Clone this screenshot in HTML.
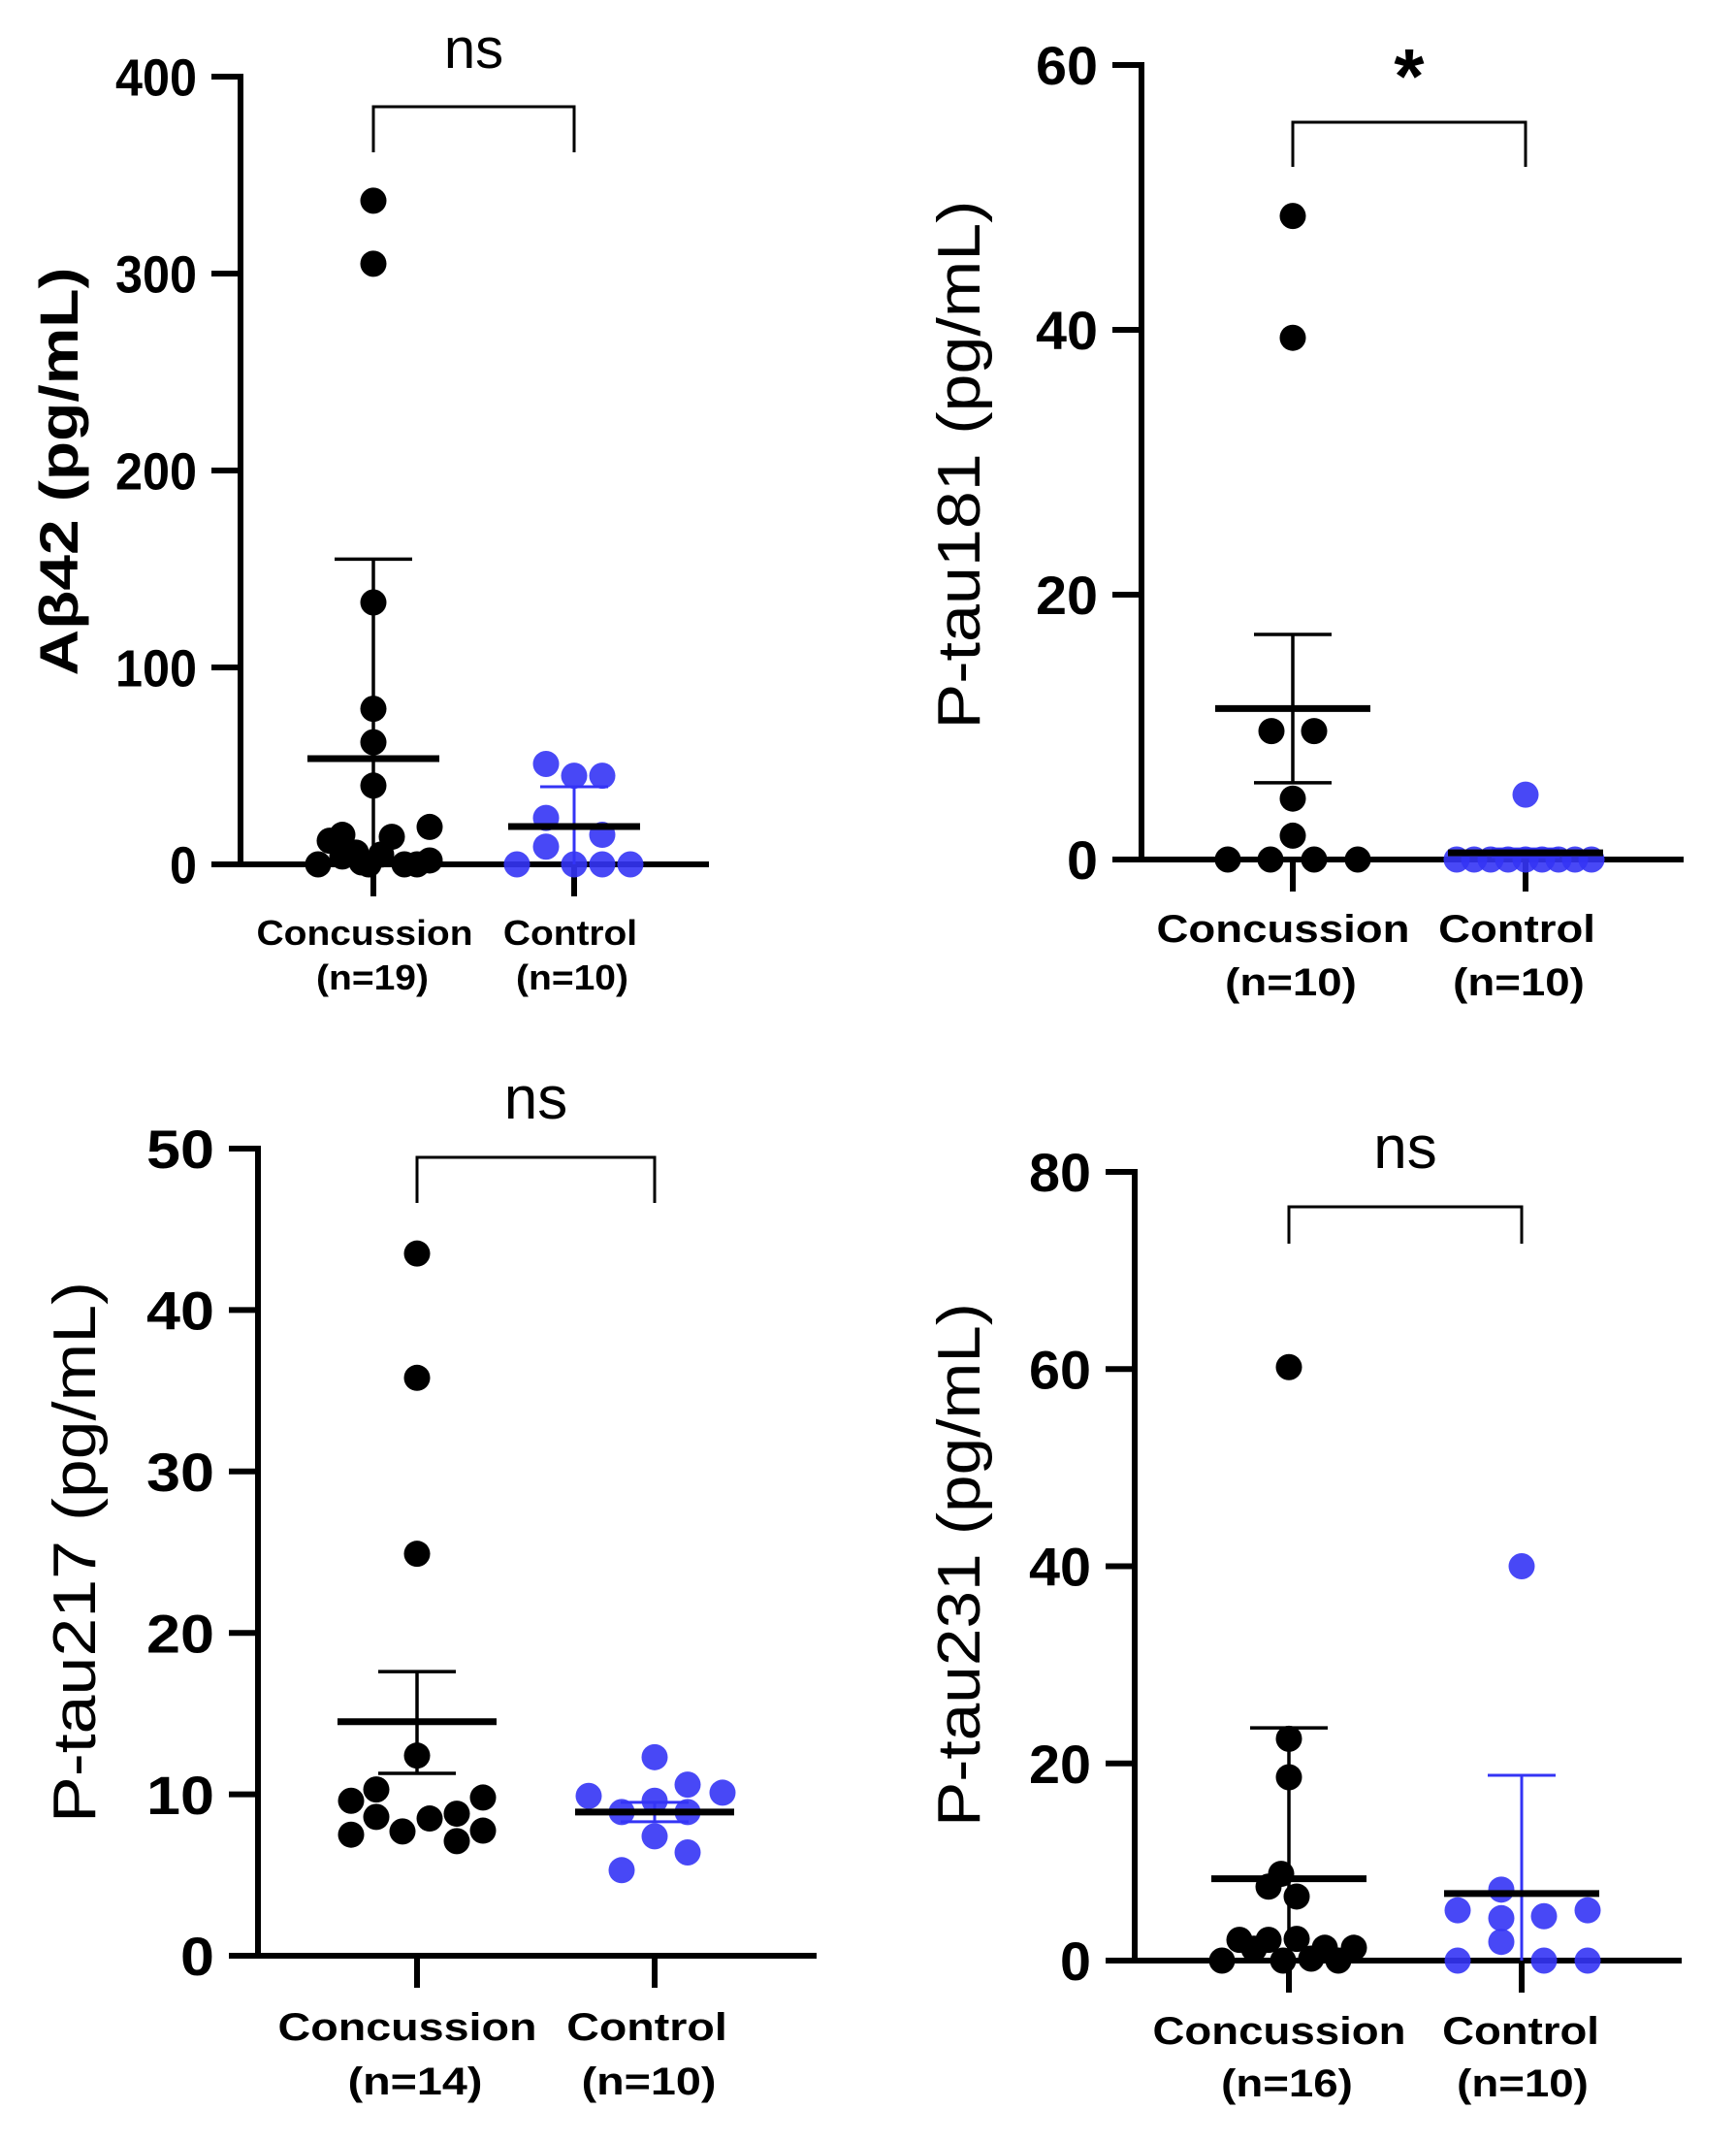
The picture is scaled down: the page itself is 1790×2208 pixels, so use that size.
<!DOCTYPE html>
<html><head><meta charset="utf-8"><style>
html,body{margin:0;padding:0;background:#fff;}
svg{display:block;}
text{font-family:"Liberation Sans",Arial,sans-serif;}
</style></head><body>
<svg id="fig" width="1790" height="2208" viewBox="0 0 1790 2208" xmlns="http://www.w3.org/2000/svg"></svg>
<script>
// ---- Panel A: Abeta42 ----
const a_conc = [337,305,133,79,62,40,0,12,15,4,6,0,1,5,14,0,0,19,2];
const a_concOff = [0,0,0,0,0,0,-57,-45,-32,-32,-18,-5,-12,8,19,32,45,58,58];
const a_ctrl = [51,45,45,23.6,15,9,0,0,0,0];
const a_ctrlOff = [-29,0,29,-29,29,-29,-59,0,29,58];
const a_stats = [53.7,155,-48, 19.2,39.4,-1];
const a_ticks = [0,100,200,300,400];
// ---- Panel B: P-tau181 ----
const b_conc = [48.6,39.4,9.7,9.7,4.6,1.8,0,0,0,0];
const b_concOff = [0,0,-22,22,0,0,-67,-23,22,67];
const b_ctrl = [4.9,0,0,0,0,0,0,0,0,0];
const b_ctrlOff = [0,-71,-53,-36,-18,0,17,34,51,68];
const b_stats = [11.4,17.0,5.8, 0.5,0.8,0.2];
const b_ticks = [0,20,40,60];
// ---- Panel C: P-tau217 ----
const c_conc = [43.5,35.8,24.9,12.4,9.6,10.3,8.6,7.5,7.7,8.5,8.8,7.1,9.8,7.75];
const c_concOff = [0,0,0,0,-68,-42,-42,-68,-15,13,41,41,68,68];
const c_ctrl = [12.3,9.9,8.9,9.6,10.6,8.9,10.1,7.4,6.4,5.3];
const c_ctrlOff = [0,-68,-34,0,34,34,70,0,34,-34];
const c_stats = [14.5,17.6,11.3, 8.9,9.5,8.3];
const c_ticks = [0,10,20,30,40,50];
// ---- Panel D: P-tau231 ----
const d_conc = [60.2,22.5,18.6,8.8,7.5,6.5,2.1,2.1,2.2,1.3,1.3,0,0.2,0,0,1.2];
const d_concOff = [0,0,0,-8,-21,8,-51,-21,8,37,67,-6,23,51,-69,-36];
const d_ctrl = [40,7.2,5.1,4.3,4.5,5.1,1.9,0,0,0];
const d_ctrlOff = [0,-21,-66,-21,23,68,-21,-66,23,68];
const d_stats = [8.3,23.6,-7, 6.8,18.8,-5];
const d_ticks = [0,20,40,60,80];

const NS='http://www.w3.org/2000/svg';
const svg=document.getElementById('fig');
const BLUE='#3434f5';
function el(tag,attrs,parent){const e=document.createElementNS(NS,tag);for(const k in attrs)e.setAttribute(k,attrs[k]);(parent||svg).appendChild(e);return e;}

function panel(P){
  const g=el('g',{});
  
  
  const y=v=>P.y0-(v/P.ymax)*(P.y0-P.ytop);
  const ya=el('line',{x1:P.ax,y1:P.ytop-3,x2:P.ax,y2:P.y0+3,stroke:'#000','stroke-width':6},g);
  
  
  const xa=el('line',{x1:P.ax-30,y1:P.y0,x2:P.xend,y2:P.y0,stroke:'#000','stroke-width':6},g);
  
  
  P.ticks.forEach(t=>{
    const tk=el('line',{x1:P.ax-30,y1:y(t),x2:P.ax,y2:y(t),stroke:'#000','stroke-width':6},g);
    
    
    const s=String(t);
    const tl=el('text',{x:P.ax-45,y:y(t)+P.tfs*0.36,'text-anchor':'end','font-size':P.tfs,'font-weight':'bold',textLength:P.dw*s.length,lengthAdjust:'spacingAndGlyphs'},g);
    tl.textContent=s;
    
    
  });
  [P.cx1,P.cx2].forEach(cx=>{
    const xt=el('line',{x1:cx,y1:P.y0,x2:cx,y2:P.y0+33,stroke:'#000','stroke-width':6},g);
    
    
  });
  const tt=el('text',{x:0,y:0,'text-anchor':'middle','font-size':P.titleFs,'font-weight':P.titleW||'normal',transform:`translate(${P.titleX},${P.titleY}) rotate(-90)`,textLength:P.titleLen,lengthAdjust:'spacingAndGlyphs'},g);
  tt.textContent=P.title;
  
  
  const labs=[[P.cx1+P.lo1,'Concussion',P.cw],[P.cx2+P.lo2,'Control',P.cw*0.62]];
  labs.forEach((l,i)=>{
    const t1=el('text',{x:l[0],y:P.lb,'text-anchor':'middle','font-size':P.lfs,'font-weight':'bold',textLength:l[2],lengthAdjust:'spacingAndGlyphs'},g);
    t1.textContent=l[1];
    
    
    const t2=el('text',{x:l[0]+(i?2:8),y:P.lb+P.nd,'text-anchor':'middle','font-size':P.lfs,'font-weight':'bold',textLength:P.cw*0.52,lengthAdjust:'spacingAndGlyphs'},g);
    t2.textContent=P.ns[i];
    
    
  });
  const br=el('polyline',{points:`${P.cx1},${P.bb} ${P.cx1},${P.bt} ${P.cx2},${P.bt} ${P.cx2},${P.bb}`,fill:'none',stroke:'#000','stroke-width':3},g);
  
  
  const sg=el('text',{x:(P.cx1+P.cx2)/2,y:P.sigY,'text-anchor':'middle','font-size':P.sigFs,'font-weight':P.sig==='*'?'bold':'normal'},g);
  sg.textContent=P.sig;
  
  
  const st=P.stats;
  const yc=v=>y(Math.max(0,v));
  function errbar(cx,mean,hi,lo,col,w,capW,name){
    const v=el('line',{x1:cx,y1:y(hi),x2:cx,y2:yc(lo),stroke:col,'stroke-width':w},g);
    
    
    const c1=el('line',{x1:cx-capW,y1:y(hi),x2:cx+capW,y2:y(hi),stroke:col,'stroke-width':w},g);
    
    
    if(lo>0){
      const c2=el('line',{x1:cx-capW,y1:y(lo),x2:cx+capW,y2:y(lo),stroke:col,'stroke-width':w},g);
      
      
    }
  }
  function dots(vals,offs,cx,col,name){
    vals.forEach((v,i)=>{
      const c=el('circle',{cx:cx+offs[i],cy:y(v),r:13.5,fill:col,'fill-opacity':col==='#000'?1:0.9},g);
      
      
    });
  }
  dots(P.conc,P.concOff,P.cx1,'#000','concussion');
  dots(P.ctrl,P.ctrlOff,P.cx2,BLUE,'control');
  errbar(P.cx1,st[0],st[1],st[2],'#000',3.5,40,'concussion');
  errbar(P.cx2,st[3],st[4],st[5],BLUE,3,35,'control');
  const m1=el('line',{x1:P.cx1-P.mh,y1:y(st[0]),x2:P.cx1+P.mh,y2:y(st[0]),stroke:'#000','stroke-width':7},g);
  
  
  const m2=el('line',{x1:P.cx2-P.mh,y1:y(st[3]),x2:P.cx2+P.mh,y2:y(st[3]),stroke:'#000','stroke-width':7},g);
  
  
}

panel({name:'abeta42-panel',ax:248,y0:891,ytop:79,ymax:400,xend:731,cx1:385,cx2:592,ticks:a_ticks,tfs:54,dw:28,
 title:'Aβ42 (pg/mL)',titleX:80,titleY:486,titleFs:56,titleLen:421,titleW:'bold',
 lo1:-9,lo2:-4,cw:223,lfs:36,lb:974,nd:46,ns:['(n=19)','(n=10)'],
 bt:110,bb:157,sig:'ns',sigY:70,sigFs:58,
 conc:a_conc,concOff:a_concOff,ctrl:a_ctrl,ctrlOff:a_ctrlOff,stats:a_stats,mh:68});
panel({name:'ptau181-panel',ax:1177,y0:886,ytop:67,ymax:60,xend:1736,cx1:1333,cx2:1573,ticks:b_ticks,tfs:56,dw:32,
 title:'P-tau181 (pg/mL)',titleX:1010,titleY:479,titleFs:62,titleLen:545,
 lo1:-10,lo2:-9,cw:261,lfs:40,lb:971,nd:55,ns:['(n=10)','(n=10)'],
 bt:126,bb:172,sig:'*',sigY:106,sigFs:80,
 conc:b_conc,concOff:b_concOff,ctrl:b_ctrl,ctrlOff:b_ctrlOff,stats:b_stats,mh:80});
panel({name:'ptau217-panel',ax:266,y0:2016,ytop:1184,ymax:50,xend:842,cx1:430,cx2:675,ticks:c_ticks,tfs:56,dw:35,
 title:'P-tau217 (pg/mL)',titleX:98,titleY:1600,titleFs:62,titleLen:558,
 lo1:-10,lo2:-8,cw:267,lfs:40,lb:2103,nd:56,ns:['(n=14)','(n=10)'],
 bt:1193,bb:1240,sig:'ns',sigY:1153,sigFs:62,
 conc:c_conc,concOff:c_concOff,ctrl:c_ctrl,ctrlOff:c_ctrlOff,stats:c_stats,mh:82});
panel({name:'ptau231-panel',ax:1170,y0:2021,ytop:1208,ymax:80,xend:1734,cx1:1329,cx2:1569,ticks:d_ticks,tfs:56,dw:32,
 title:'P-tau231 (pg/mL)',titleX:1010,titleY:1613,titleFs:62,titleLen:540,
 lo1:-10,lo2:-1,cw:261,lfs:40,lb:2107,nd:54,ns:['(n=16)','(n=10)'],
 bt:1244,bb:1282,sig:'ns',sigY:1204,sigFs:62,
 conc:d_conc,concOff:d_concOff,ctrl:d_ctrl,ctrlOff:d_ctrlOff,stats:d_stats,mh:80});
</script>
</body></html>
